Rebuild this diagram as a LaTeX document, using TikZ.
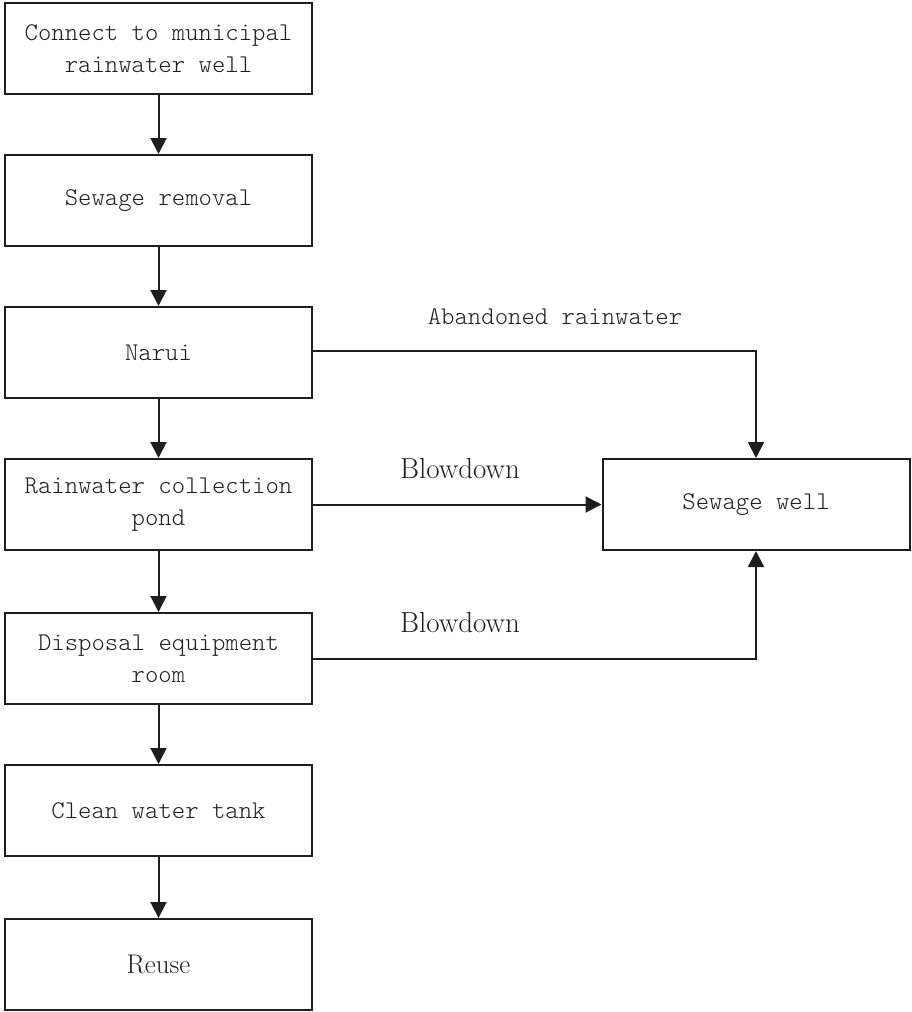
\documentclass[tikz,border=0pt]{standalone}
\usepackage{fontspec}
\setmonofont{Latin Modern Mono Light}
\usetikzlibrary{arrows.meta}
\definecolor{ink}{HTML}{1E1E1E}
\tikzset{
  stage/.style={draw=ink, line width=2pt, minimum width=307pt, minimum height=91pt,
    inner sep=0pt, align=center, text=ink, font=\ttfamily\fontsize{25.5}{32}\selectfont},
  flow/.style={draw=ink, line width=2pt, -{Triangle[length=16pt,width=16pt]}},
  monolabel/.style={text=ink, font=\ttfamily\fontsize{25.5}{32}\selectfont},
  bigLabel/.style={text=ink, font=\rmfamily\fontsize{29}{34}\selectfont}
}
\begin{document}
\begin{tikzpicture}[x=1pt,y=-1pt]
  \useasboundingbox (0,0) rectangle (911,1012);
  % main column of treatment stages
  \node[stage] (s1) at (158.5,48.5) {Connect to municipal\\rainwater well};
  \node[stage] (s2) at (158.5,200.5) {Sewage removal};
  \node[stage] (s3) at (158.5,352.5) {Narui};
  \node[stage] (s4) at (158.5,504.5) {Rainwater collection\\pond};
  \node[stage] (s5) at (158.5,658.5) {Disposal equipment\\room};
  \node[stage] (s6) at (158.5,810.5) {Clean water tank};
  \node[stage, font=\rmfamily\fontsize{27}{32}\selectfont] (s7) at (158.5,964.5) {Reuse};
  % discharge target
  \node[stage] (sw) at (756,504.5) {Sewage well};
  % vertical flow
  \foreach \a/\b in {s1/s2,s2/s3,s3/s4,s4/s5,s5/s6,s6/s7}
    \draw[flow] (\a.south) -- (\b.north);
  % branches into the sewage well
  \draw[flow] (s3.east |- 0,351) -- (sw.north |- 0,351) -- (sw.north);
  \draw[flow] (s4.east) -- (sw.west);
  \draw[flow] (s5.east |- 0,659) -- (sw.south |- 0,659) -- (sw.south);
  % labels on the branches
  \node[monolabel] (l1) at (555,317) {Abandoned rainwater};
  \node[bigLabel] (l2) at (460,469) {Blowdown};
  \node[bigLabel] (l3) at (460,623) {Blowdown};
\end{tikzpicture}
\end{document}
